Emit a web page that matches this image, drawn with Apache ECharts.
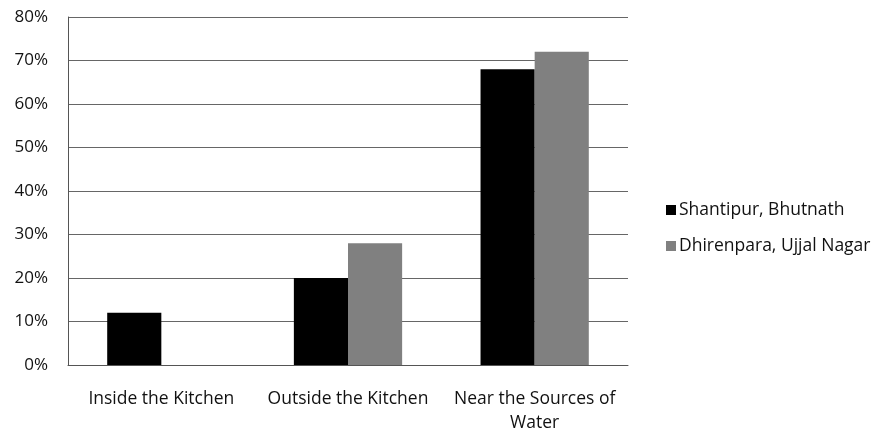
<!DOCTYPE html>
<html>
<head>
<meta charset="utf-8">
<script src="https://cdn.jsdelivr.net/npm/echarts@6/dist/echarts.min.js"></script>
<style>
  html, body { margin: 0; padding: 0; background: #fff; }
  #chart { width: 876px; height: 437px; }
</style>
</head>
<body>
<div id="chart"></div>
<script>
// 数据
const categories = ["Inside the Kitchen", "Outside the Kitchen", "Near the Sources of\nWater"];
const shantipur = [12, 20, 68];
const dhirenpara = [0, 28, 72];
const seriesNames = ["Shantipur, Bhutnath", "Dhirenpara, Ujjal Nagar"];

let myChart = echarts.init(document.getElementById("chart"));
let font = "'Open Sans', sans-serif";
let option = {
  animation: false,
  color: ["#000000", "#808080"],
  grid: { left: 68, right: 248, top: 17, bottom: 72 },
  legend: {
    orient: "vertical",
    left: 661,
    top: 196,
    itemWidth: 10,
    itemHeight: 10,
    itemGap: 18,
    icon: "rect",
    textStyle: { color: "#111", fontSize: 17.5, fontFamily: font, padding: [0, 0, 0, -2] },
    data: seriesNames
  },
  xAxis: {
    type: "category",
    data: categories,
    axisLine: { lineStyle: { color: "#555", width: 1 } },
    axisTick: { show: false },
    axisLabel: { color: "#111", fontSize: 17.5, fontFamily: font, margin: 22, lineHeight: 24, interval: 0 }
  },
  yAxis: {
    type: "value",
    min: 0,
    max: 80,
    interval: 10,
    axisLine: { show: true, lineStyle: { color: "#555", width: 1 } },
    axisTick: { show: false },
    splitLine: { lineStyle: { color: "#666", width: 1 } },
    axisLabel: { color: "#111", fontSize: 17, fontFamily: font, margin: 20, formatter: "{value}%" }
  },
  series: [
    {
      name: seriesNames[0],
      type: "bar",
      data: shantipur,
      barGap: "0%",
      barCategoryGap: "42%"
    },
    {
      name: seriesNames[1],
      type: "bar",
      data: dhirenpara,
      barGap: "0%",
      barCategoryGap: "42%"
    }
  ]
};
myChart.setOption(option);
</script>
</body>
</html>
